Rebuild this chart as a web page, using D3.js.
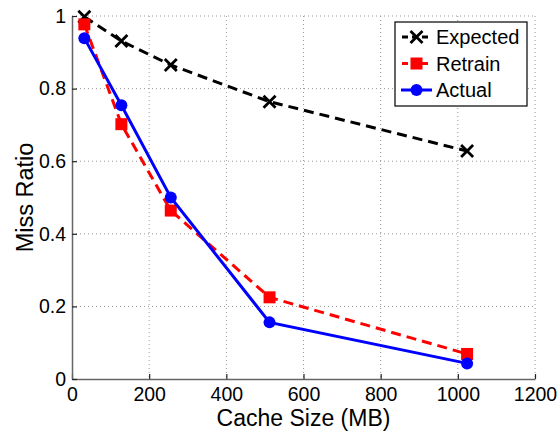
<!DOCTYPE html>
<html>
<head>
<meta charset="utf-8">
<script src="https://cdn.jsdelivr.net/npm/d3@7"></script>
<style>
  body { margin: 0; background: #fff; }
  text { font-family: "Liberation Sans", Arial, sans-serif; fill: #000; }
</style>
</head>
<body>
<div id="chart"></div>
<script>
// chart data
const cacheSizes = [32, 128, 256, 512, 1024];
const expected = [0.998, 0.931, 0.865, 0.764, 0.628];
const retrain = [0.977, 0.702, 0.464, 0.225, 0.069];
const actual = [0.939, 0.754, 0.500, 0.156, 0.043];
const xTicks = [0, 200, 400, 600, 800, 1000, 1200];
const yTicks = [0, 0.2, 0.4, 0.6, 0.8, 1];
const yTickLabels = ["0", "0.2", "0.4", "0.6", "0.8", "1"];

const width = 558, height = 433;
const margin = { top: 16, right: 23, bottom: 54, left: 72 };
const iw = width - margin.left - margin.right;
const ih = height - margin.top - margin.bottom;

const svg = d3.select("#chart").append("svg")
  .attr("width", width)
  .attr("height", height);

const g = svg.append("g")
  .attr("transform", `translate(${margin.left},${margin.top})`);

const x = d3.scaleLinear().domain([0, 1200]).range([0, iw]);
const y = d3.scaleLinear().domain([0, 1]).range([ih, 0]);

// grid
g.append("g").selectAll("line")
  .data(xTicks.slice(1))
  .enter().append("line")
  .attr("x1", d => x(d)).attr("x2", d => x(d))
  .attr("y1", 0).attr("y2", ih)
  .attr("stroke", "#999").attr("stroke-width", 1)
  .attr("stroke-dasharray", "1,3");

g.append("g").selectAll("line")
  .data(yTicks.slice(1))
  .enter().append("line")
  .attr("x1", 0).attr("x2", iw)
  .attr("y1", d => y(d)).attr("y2", d => y(d))
  .attr("stroke", "#999").attr("stroke-width", 1)
  .attr("stroke-dasharray", "1,3");

// axes
const xAxis = g.append("g")
  .attr("transform", `translate(0,${ih})`)
  .call(d3.axisBottom(x).tickValues(xTicks).tickFormat(d3.format("d"))
    .tickSizeInner(-5).tickSizeOuter(0).tickPadding(8));
const yAxis = g.append("g")
  .call(d3.axisLeft(y).tickValues(yTicks).tickFormat((d, i) => yTickLabels[i])
    .tickSizeInner(-5).tickSizeOuter(0).tickPadding(6));

[xAxis, yAxis].forEach(a => {
  a.select(".domain").attr("stroke", "#666").attr("stroke-width", 1.5);
  a.selectAll(".tick line").attr("stroke", "#222").attr("stroke-width", 1.2);
  a.selectAll("text").style("font-size", "19.5px").attr("fill", "#000");
});

// axis titles
svg.append("text")
  .attr("x", margin.left + x(600))
  .attr("y", 426)
  .attr("text-anchor", "middle")
  .style("font-size", "23px")
  .text("Cache Size (MB)");

svg.append("text")
  .attr("transform", `translate(33,${margin.top + ih / 2}) rotate(-90)`)
  .attr("text-anchor", "middle")
  .style("font-size", "23.5px")
  .text("Miss Ratio");

// series
const series = [
  { name: "Expected", values: expected, color: "#000", dash: "10,6", marker: "x" },
  { name: "Retrain", values: retrain, color: "#ff0000", dash: "10,6", marker: "square" },
  { name: "Actual", values: actual, color: "#0000ff", dash: null, marker: "circle" }
];

const line = d3.line()
  .x(d => x(d[0]))
  .y(d => y(d[1]));

function drawMarker(sel, type, color) {
  if (type === "x") {
    sel.append("path")
      .attr("d", "M-6,-6L6,6M-6,6L6,-6")
      .attr("stroke", color).attr("stroke-width", 2.8).attr("fill", "none");
  } else if (type === "square") {
    sel.append("rect")
      .attr("x", -6).attr("y", -6).attr("width", 12).attr("height", 12)
      .attr("fill", color);
  } else {
    sel.append("circle").attr("r", 6).attr("fill", color);
  }
}

series.forEach(s => {
  const pts = cacheSizes.map((c, i) => [c, s.values[i]]);
  g.append("path")
    .datum(pts)
    .attr("d", line)
    .attr("fill", "none")
    .attr("stroke", s.color)
    .attr("stroke-width", 3)
    .attr("stroke-dasharray", s.dash);
  g.append("g").selectAll("g")
    .data(pts)
    .enter().append("g")
    .attr("transform", d => `translate(${x(d[0])},${y(d[1])})`)
    .each(function() { drawMarker(d3.select(this), s.marker, s.color); });
});

// legend
const legend = svg.append("g").attr("transform", "translate(395,22)");
legend.append("rect")
  .attr("width", 132).attr("height", 84)
  .attr("fill", "#fff").attr("stroke", "#000").attr("stroke-width", 1.2);

series.forEach((s, i) => {
  const ly = 15 + i * 26.5;
  legend.append("line")
    .attr("x1", 6).attr("x2", 37)
    .attr("y1", ly).attr("y2", ly)
    .attr("stroke", s.color).attr("stroke-width", 3)
    .attr("stroke-dasharray", s.dash ? "6,4" : null)
    .attr("stroke-dashoffset", s.dash ? -1 : null);
  const m = legend.append("g").attr("transform", `translate(21.5,${ly})`);
  drawMarker(m, s.marker, s.color);
  legend.append("text")
    .attr("x", 41).attr("y", ly + 7)
    .style("font-size", "20px")
    .text(s.name);
});
</script>
</body>
</html>
